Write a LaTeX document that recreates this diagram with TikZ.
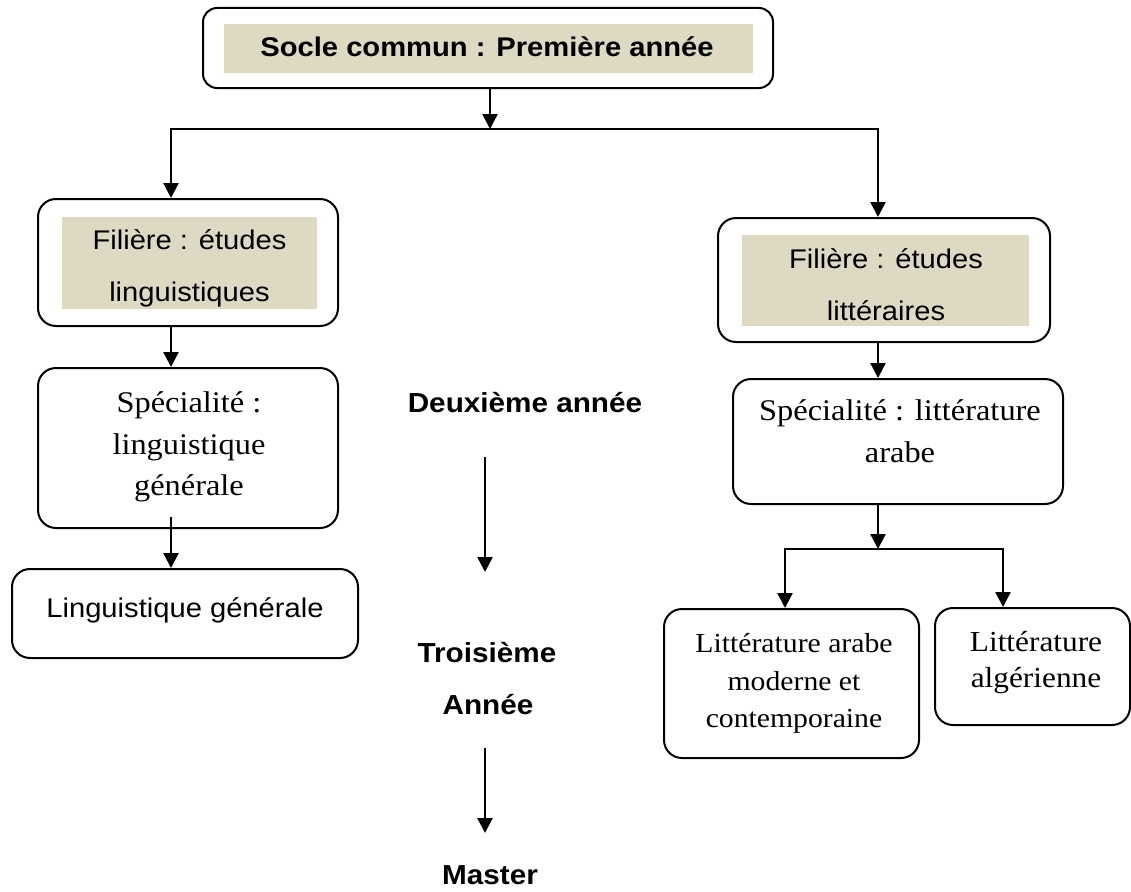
\documentclass[tikz,border=0pt]{standalone}
\usepackage{fontspec}
\usetikzlibrary{arrows.meta}
\newfontfamily\arialf{Liberation Sans}[FakeStretch=1.08]
\newfontfamily\timesf{Liberation Serif}[FakeStretch=1.08]
\definecolor{tanbg}{HTML}{DDD9C3}

\begin{document}
\begin{tikzpicture}[x=1pt, y=-1pt, line width=2pt,
  >={Triangle[length=15pt,width=15pt]},
  roundbox/.style={draw, rounded corners=18pt, inner sep=0pt},
  tanpanel/.style={fill=tanbg, draw=none, inner sep=0pt},
  link/.style={line width=2.4pt},
  sanslbl/.style={font=\arialf\fontsize{27}{52}\selectfont, align=center, inner sep=0pt},
  yearlbl/.style={font=\arialf\bfseries\fontsize{27.5}{34}\selectfont, inner sep=0pt},
  speclbl/.style={font=\timesf\fontsize{30}{41.5}\selectfont, align=center, inner sep=0pt},
  litlbl/.style={font=\timesf\fontsize{27.5}{37.5}\selectfont, align=center, inner sep=0pt}]

\useasboundingbox (0,0) rectangle (1131,891);

% premiere annee
\node[roundbox, rounded corners=14pt, minimum width=570, minimum height=80] (socle) at (488,48) {};
\node[tanpanel, minimum width=529, minimum height=49] (socleP) at (488.5,48.5) {};
\node[yearlbl, font=\arialf\bfseries\fontsize{27}{34}\selectfont] (socleT) at (487,47) {Socle commun : Première année};

% filieres
\node[roundbox, minimum width=300, minimum height=127] (filL) at (188,262.5) {};
\node[tanpanel, minimum width=255, minimum height=92] (filLP) at (189.5,263) {};
\node[sanslbl] (filLT) at (189.5,268) {Filière : études\\linguistiques};

\node[roundbox, minimum width=332, minimum height=124] (filR) at (884,280) {};
\node[tanpanel, minimum width=287, minimum height=91] (filRP) at (885.5,280.5) {};
\node[sanslbl] (filRT) at (886,285) {Filière : études\\littéraires};

% specialites
\node[roundbox, minimum width=300, minimum height=160] (speL) at (188,448) {};
\node[speclbl] (speLT) at (189,447) {Spécialité :\\linguistique\\générale};

\node[roundbox, minimum width=330, minimum height=125] (speR) at (898,441.5) {};
\node[speclbl] (speRT) at (900,431) {Spécialité : littérature\\arabe};

% troisieme annee
\node[roundbox, minimum width=346, minimum height=89] (lingG) at (185,613.5) {};
\node[sanslbl] (lingGT) at (185,610) {Linguistique générale};

\node[roundbox, minimum width=255, minimum height=149] (litAM) at (791.5,683.5) {};
\node[litlbl] (litAMT) at (794,683.5) {Littérature arabe\\moderne et\\contemporaine};

\node[roundbox, minimum width=195, minimum height=117] (litAlg) at (1032.5,666.5) {};
\node[litlbl, font=\timesf\fontsize{29}{36}\selectfont] (litAlgT) at (1036,663) {Littérature\\algérienne};

% annees au milieu
\node[yearlbl] (deux) at (525,402.5) {Deuxième année};
\node[yearlbl] (trois) at (487,652.5) {Troisième};
\node[yearlbl] (annee) at (488,704.5) {Année};
\node[yearlbl] (master) at (490,875) {Master};

% fleches
\coordinate (bus) at (490,129);
\coordinate (busL) at (171,129);
\coordinate (busR) at (878,129);
\draw[link, ->] (socle.south -| bus) -- (bus);
\draw[link, ->] (bus) -- (busL) -- (busL |- filL.north);
\draw[link, ->] (bus) -- (busR) -- (busR |- filR.north);

\coordinate (lstart) at (171,517);
\draw[link, ->] (filL.south -| busL) -- (speL.north -| busL);
\draw[link, ->] (lstart) -- (lingG.north -| lstart);

\coordinate (split) at (878,549);
\coordinate (splitL) at (785,549);
\coordinate (splitR) at (1003,549);
\draw[link, ->] (filR.south -| busR) -- (speR.north -| busR);
\draw[link, ->] (speR.south -| split) -- (split);
\draw[link, ->] (split) -- (splitL) -- (splitL |- litAM.north);
\draw[link, ->] (split) -- (splitR) -- (splitR |- litAlg.north);

\coordinate (m1) at (485,457);
\coordinate (m2) at (485,572);
\coordinate (m3) at (485,748);
\coordinate (m4) at (485,833);
\draw[link, ->] (m1) -- (m2);
\draw[link, ->] (m3) -- (m4);

\end{tikzpicture}
\end{document}
